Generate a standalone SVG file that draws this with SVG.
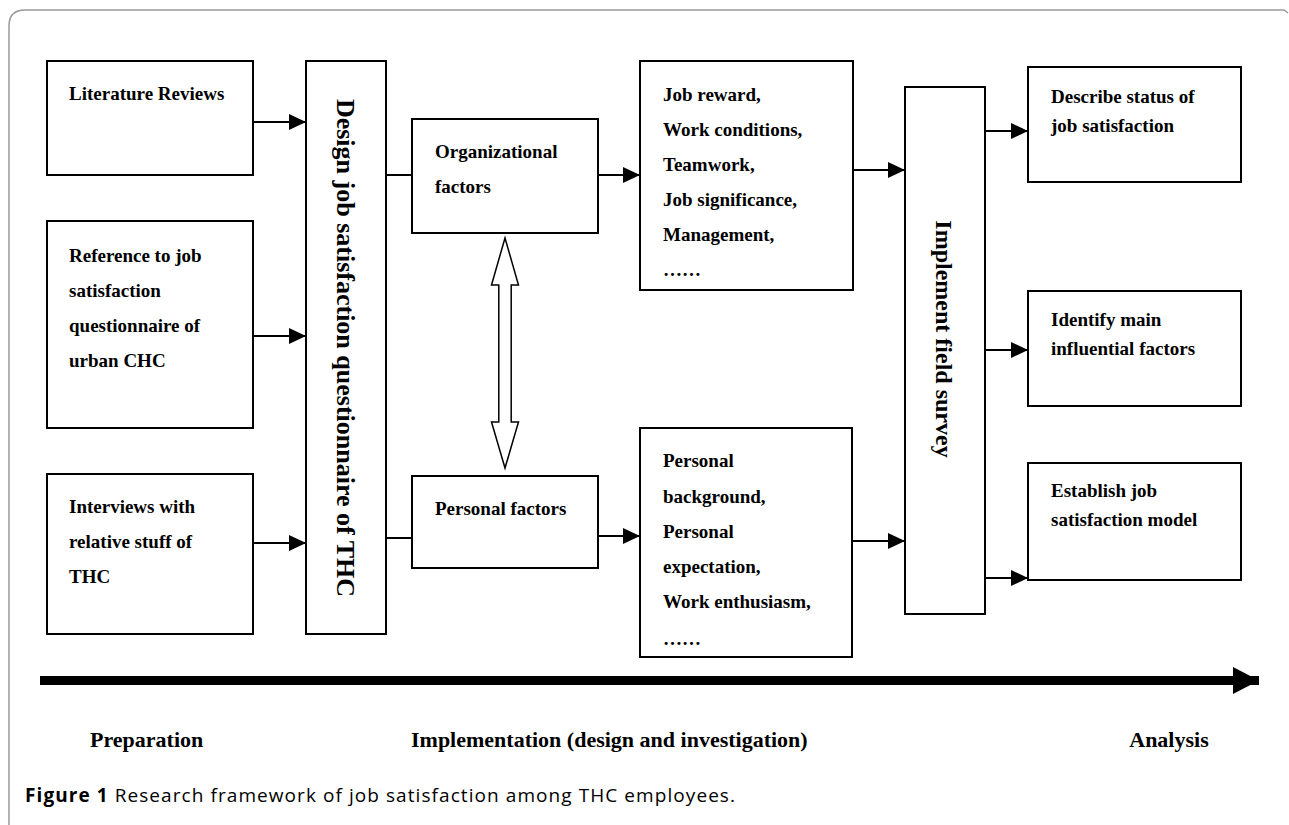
<svg xmlns="http://www.w3.org/2000/svg" width="1289" height="825" viewBox="0 0 1289 825">
<defs>
<marker id="ah" viewBox="0 0 17 16" refX="17" refY="8" markerWidth="17" markerHeight="16" markerUnits="userSpaceOnUse" orient="auto">
<path d="M0,0 L17,8 L0,16 z" fill="#000"/>
</marker>
<marker id="big" viewBox="0 0 26 27" refX="26" refY="13.5" markerWidth="26" markerHeight="27" markerUnits="userSpaceOnUse" orient="auto">
<path d="M0,0 L26,13.5 L0,27 z" fill="#000"/>
</marker>
</defs>
<style>
.box{fill:#fff;stroke:#000;stroke-width:2}
.t{font-family:"Liberation Serif","Times New Roman",serif;font-weight:bold;font-size:19px;fill:#000}
.v{font-family:"Liberation Serif","Times New Roman",serif;font-weight:bold;font-size:26px;fill:#000}
.b{font-family:"Liberation Serif","Times New Roman",serif;font-weight:bold;font-size:22px;fill:#000}
.ln{stroke:#000;stroke-width:2;fill:none}
.cap{font-family:"Open Sans","Noto Sans",sans-serif;font-size:19px;fill:#000}
</style>
<rect width="1289" height="825" fill="#fff"/>
<path d="M9,825 L9,26 Q9,10 25,10 L1284,10 L1288,13" fill="none" stroke="#999" stroke-width="1.5"/>

<g id="connectors">
<line class="ln" x1="253" y1="122" x2="306" y2="122" marker-end="url(#ah)"/>
<line class="ln" x1="253" y1="336" x2="306" y2="336" marker-end="url(#ah)"/>
<line class="ln" x1="253" y1="543" x2="306" y2="543" marker-end="url(#ah)"/>
<line class="ln" x1="386" y1="175" x2="412" y2="175"/>
<line class="ln" x1="386" y1="538" x2="412" y2="538"/>
<line class="ln" x1="598" y1="175" x2="640" y2="175" marker-end="url(#ah)"/>
<line class="ln" x1="598" y1="536" x2="640" y2="536" marker-end="url(#ah)"/>
<line class="ln" x1="853" y1="170" x2="905" y2="170" marker-end="url(#ah)"/>
<line class="ln" x1="853" y1="541" x2="905" y2="541" marker-end="url(#ah)"/>
<line class="ln" x1="985" y1="131" x2="1028" y2="131" marker-end="url(#ah)"/>
<line class="ln" x1="985" y1="350" x2="1028" y2="350" marker-end="url(#ah)"/>
<line class="ln" x1="985" y1="578" x2="1028" y2="578" marker-end="url(#ah)"/>
<path d="M505,238 L518.5,285 L511.2,285 L511.2,422 L518.5,422 L505,468 L491.5,422 L498.8,422 L498.8,285 L491.5,285 z" fill="#fff" stroke="#000" stroke-width="1.5" stroke-linejoin="miter"/>
<line x1="40" y1="680.5" x2="1259" y2="680.5" stroke="#000" stroke-width="9" marker-end="url(#big)"/>
</g>

<g id="lit"><rect class="box" x="47" y="61" width="206" height="114"/>
<text class="t" x="69" y="100">Literature Reviews</text></g>

<g id="ref"><rect class="box" x="47" y="221" width="206" height="207"/>
<text class="t" x="69" y="262">Reference to job</text>
<text class="t" x="69" y="297">satisfaction</text>
<text class="t" x="69" y="332">questionnaire of</text>
<text class="t" x="69" y="367">urban CHC</text></g>

<g id="interviews"><rect class="box" x="47" y="474" width="206" height="160"/>
<text class="t" x="69" y="513">Interviews with</text>
<text class="t" x="69" y="548">relative stuff of</text>
<text class="t" x="69" y="583">THC</text></g>

<g id="design"><rect class="box" x="306" y="61" width="80" height="573"/>
<text class="v" transform="translate(337,348) rotate(90)" text-anchor="middle">Design job satisfaction questionnaire of THC</text></g>

<g id="org"><rect class="box" x="412" y="119" width="186" height="114"/>
<text class="t" x="435" y="158">Organizational</text>
<text class="t" x="435" y="193">factors</text></g>

<g id="personal"><rect class="box" x="412" y="476" width="186" height="92"/>
<text class="t" x="435" y="515">Personal factors</text></g>

<g id="orglist"><rect class="box" x="640" y="61" width="213" height="229"/>
<text class="t" x="663" y="101">Job reward,</text>
<text class="t" x="663" y="136">Work conditions,</text>
<text class="t" x="663" y="171">Teamwork,</text>
<text class="t" x="663" y="206">Job significance,</text>
<text class="t" x="663" y="241">Management,</text>
<text class="t" x="663" y="276">……</text></g>

<g id="perlist"><rect class="box" x="640" y="428" width="212" height="229"/>
<text class="t" x="663" y="467">Personal</text>
<text class="t" x="663" y="503">background,</text>
<text class="t" x="663" y="538">Personal</text>
<text class="t" x="663" y="573">expectation,</text>
<text class="t" x="663" y="608">Work enthusiasm,</text>
<text class="t" x="663" y="645">……</text></g>

<g id="survey"><rect class="box" x="905" y="87" width="80" height="527"/>
<text class="v" transform="translate(936,339) rotate(90)" text-anchor="middle" style="font-size:24px">Implement field survey</text></g>

<g id="describe"><rect class="box" x="1028" y="67" width="213" height="115"/>
<text class="t" x="1051" y="103">Describe status of</text>
<text class="t" x="1051" y="132">job satisfaction</text></g>

<g id="identify"><rect class="box" x="1028" y="291" width="213" height="115"/>
<text class="t" x="1051" y="326">Identify main</text>
<text class="t" x="1051" y="355">influential factors</text></g>

<g id="establish"><rect class="box" x="1028" y="463" width="213" height="117"/>
<text class="t" x="1051" y="497">Establish job</text>
<text class="t" x="1051" y="526">satisfaction model</text></g>

<g id="phases">
<text class="b" x="90" y="747">Preparation</text>
<text class="b" x="411" y="747">Implementation (design and investigation)</text>
<text class="b" x="1169" y="747" text-anchor="middle">Analysis</text>
</g>

<text class="cap" x="25" y="802" textLength="710" lengthAdjust="spacing"><tspan font-weight="bold">Figure 1</tspan> Research framework of job satisfaction among THC employees.</text>
</svg>
